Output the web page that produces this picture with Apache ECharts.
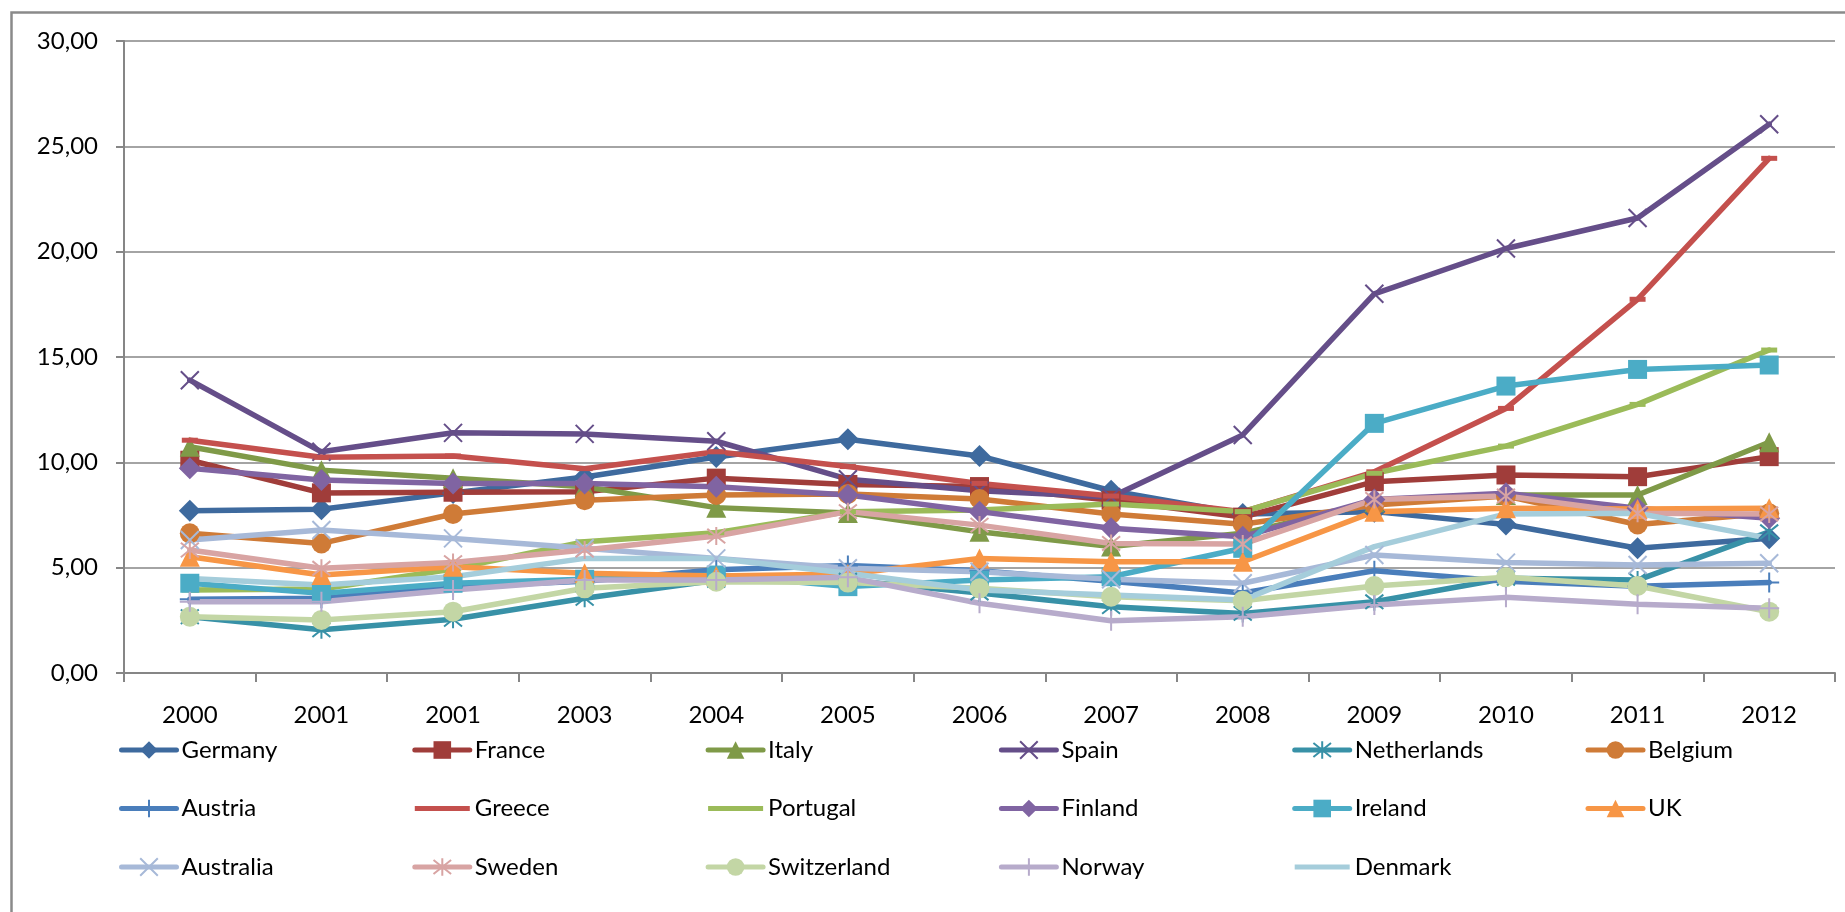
<!DOCTYPE html>
<html>
<head>
<meta charset="utf-8">
<title>Country chart</title>
<script src="https://cdn.jsdelivr.net/npm/echarts@6/dist/echarts.min.js"></script>
<style>
  html, body { margin: 0; padding: 0; background: #fff; }
  #chart { width: 1845px; height: 912px; }
</style>
</head>
<body>
<div id="chart"></div>
<script>
// categories (the third label really reads 2001 in the original)
var years = ["2000", "2001", "2001", "2003", "2004", "2005", "2006", "2007", "2008", "2009", "2010", "2011", "2012"];
var yMin = 0;
var yMax = 30;
var yStep = 5;

// series values
var germany     = [7.7, 7.77, 8.55, 9.3, 10.25, 11.1, 10.3, 8.65, 7.55, 7.66, 7.05, 5.92, 6.4];
var france      = [10.1, 8.55, 8.58, 8.6, 9.25, 8.95, 8.85, 8.2, 7.4, 9.08, 9.4, 9.32, 10.27];
var italy       = [10.74, 9.63, 9.24, 8.84, 7.85, 7.6, 6.7, 6.0, 6.63, 8.1, 8.45, 8.45, 10.95];
var spain       = [13.9, 10.5, 11.4, 11.35, 11.0, 9.2, 8.65, 8.35, 11.3, 18.0, 20.15, 21.6, 26.05];
var netherlands = [2.67, 2.05, 2.55, 3.55, 4.4, 4.4, 3.8, 3.15, 2.83, 3.38, 4.5, 4.41, 6.7];
var belgium     = [6.63, 6.15, 7.55, 8.2, 8.45, 8.5, 8.26, 7.55, 7.06, 7.97, 8.4, 7.05, 7.58];
var austria     = [3.5, 3.55, 4.1, 4.35, 4.9, 5.1, 4.85, 4.35, 3.8, 4.85, 4.35, 4.12, 4.3];
var greece      = [11.05, 10.24, 10.3, 9.7, 10.5, 9.8, 9.0, 8.4, 7.65, 9.55, 12.56, 17.74, 24.43];
var portugal    = [3.94, 3.99, 4.94, 6.23, 6.66, 7.66, 7.74, 8.02, 7.66, 9.48, 10.77, 12.75, 15.33];
var finland     = [9.72, 9.16, 9.0, 9.0, 8.84, 8.45, 7.66, 6.87, 6.47, 8.24, 8.53, 7.82, 7.34];
var ireland     = [4.26, 3.78, 4.26, 4.45, 4.65, 4.1, 4.41, 4.57, 5.92, 11.85, 13.62, 14.41, 14.62];
var uk          = [5.52, 4.65, 5.04, 4.73, 4.6, 4.7, 5.44, 5.28, 5.28, 7.66, 7.82, 7.78, 7.82];
var australia   = [6.31, 6.79, 6.39, 5.92, 5.44, 4.97, 4.81, 4.45, 4.26, 5.6, 5.24, 5.13, 5.21];
var sweden      = [5.84, 4.97, 5.24, 5.84, 6.5, 7.66, 7.02, 6.15, 6.12, 8.24, 8.4, 7.58, 7.55];
var switzerland = [2.67, 2.52, 2.91, 4.02, 4.33, 4.29, 4.02, 3.62, 3.43, 4.13, 4.54, 4.13, 2.91];
var norway      = [3.38, 3.38, 3.94, 4.41, 4.41, 4.54, 3.31, 2.48, 2.67, 3.23, 3.59, 3.26, 3.07];
var denmark     = [4.49, 4.18, 4.57, 5.44, 5.44, 4.73, 3.94, 3.7, 3.46, 6.0, 7.55, 7.58, 6.39];

var names = ["Germany", "France", "Italy", "Spain", "Netherlands", "Belgium",
             "Austria", "Greece", "Portugal", "Finland", "Ireland", "UK",
             "Australia", "Sweden", "Switzerland", "Norway", "Denmark"];
var values = [germany, france, italy, spain, netherlands, belgium,
              austria, greece, portugal, finland, ireland, uk,
              australia, sweden, switzerland, norway, denmark];
var colors = ["#3e6a9e", "#a03d3a", "#7f9a48", "#654e89", "#3891a7", "#cf7b37",
              "#4a7ebb", "#c4504d", "#9bbb59", "#8064a2", "#4bacc6", "#f79646",
              "#a7b9d8", "#d8a4a3", "#c3d6a5", "#b7abcb", "#a5cddb"];

var X_MARK = "path://M0,0L10,10M10,0L0,10";
var STAR_MARK = "path://M5,0L5,10M1,1L9,9M9,1L1,9";
var PLUS_MARK = "path://M5,0L5,10M0,5L10,5";
var markers = ["diamond", "rect", "triangle", X_MARK, STAR_MARK, "circle",
               PLUS_MARK, "rect", "rect", "diamond", "rect", "triangle",
               X_MARK, STAR_MARK, "circle", PLUS_MARK, "none"];
var markerSizes = [22, 19, 20, 18, 18, 20,
                   20, [16, 5], [16, 5], 22, 19, 20,
                   18, 18, 20, 20, 0];
// these show only a line in the legend
var lineOnly = ["Greece", "Portugal", "Denmark"];
var LINE_ICON = "path://M0,0L11,0L11,1L0,1Z";

var font = "Lato, 'Open Sans', sans-serif";

var series = [];
for (var i = 0; i < names.length; i++) {
  var stroked = markers[i].indexOf("path://") === 0;
  series.push({
    name: names[i],
    type: "line",
    data: values[i],
    symbol: markers[i],
    symbolSize: markerSizes[i],
    showAllSymbol: true,
    itemStyle: {
      color: colors[i],
      borderColor: colors[i],
      borderWidth: stroked ? 2 : 0
    },
    lineStyle: { color: colors[i], width: 5.5, join: "round", cap: "round" },
    emphasis: { disabled: true }
  });
}

// one vertical legend per column, 6 columns like the original
var legends = [];
for (var c = 0; c < 6; c++) {
  var items = [];
  for (var k = c; k < names.length; k += 6) {
    if (lineOnly.indexOf(names[k]) >= 0) items.push({ name: names[k], icon: LINE_ICON });
    else items.push(names[k]);
  }
  legends.push({
    orient: "vertical",
    left: 119 + c * 293.3,
    top: 738,
    padding: 0,
    itemWidth: 55,
    itemHeight: 22,
    itemGap: 34.5,
    selectedMode: false,
    data: items,
    lineStyle: { width: 5, cap: "round" },
    textStyle: { fontFamily: font, fontSize: 24, color: "#000" }
  });
}

var myChart = echarts.init(document.getElementById("chart"));
myChart.setOption({
  animation: false,
  backgroundColor: "#fff",
  grid: { left: 124, top: 41, width: 1711, height: 632, containLabel: false },
  xAxis: {
    type: "category",
    data: years,
    boundaryGap: true,
    axisLine: { lineStyle: { color: "#868686", width: 2 } },
    axisTick: { show: true, length: 9, lineStyle: { color: "#868686", width: 2 } },
    axisLabel: { fontFamily: font, fontSize: 24, color: "#000", margin: 30, interval: 0 },
    splitLine: { show: false }
  },
  yAxis: {
    type: "value",
    min: yMin,
    max: yMax,
    interval: yStep,
    axisLine: { show: true, lineStyle: { color: "#868686", width: 2 } },
    axisTick: { show: true, length: 8, lineStyle: { color: "#868686", width: 2 } },
    axisLabel: {
      fontFamily: font, fontSize: 24, color: "#000", margin: 26,
      formatter: function (v) { return v.toFixed(2).replace(".", ","); }
    },
    splitLine: { lineStyle: { color: "#868686", width: 1.5 } }
  },
  legend: legends,
  graphic: [{
    type: "rect",
    left: 9, top: 10,
    shape: { width: 2000, height: 1000 },
    style: { fill: null, stroke: "#8a8a8a", lineWidth: 2.5 },
    silent: true
  }],
  series: series
});
</script>
</body>
</html>
